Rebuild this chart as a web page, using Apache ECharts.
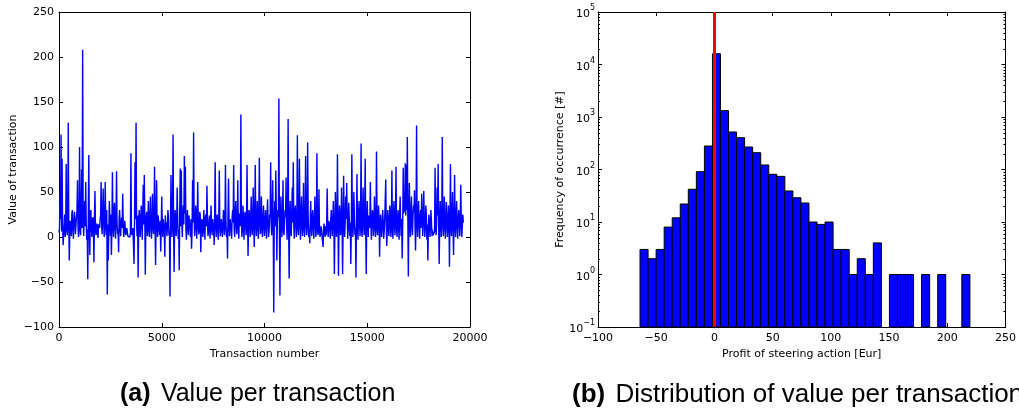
<!DOCTYPE html>
<html>
<head>
<meta charset="utf-8">
<script src="https://cdn.jsdelivr.net/npm/echarts@6/dist/echarts.min.js"></script>
<style>html,body{margin:0;padding:0;background:#fff;}#c{width:1019px;height:414px;}</style>
</head>
<body>
<div id="c"></div>
<script>
// ---- Panel (a): value per transaction, sampled every 25 transactions ----
const transactionStep = 25;
const transactionValues = [
  5,10,48,20,114,6,87,15,-9,3,12,25,0,8,81,18,2,14,127,22,-26,5,18,12,1,26,30,9,-2,16,28,20,3,4,22,30,63,12,0,8,
  100,18,2,25,75,10,208,30,1,22,40,12,61,15,-3,8,-47,20,91,14,-20,26,30,10,0,18,22,6,-28,22,51,12,2,9,15,4,-1,14,12,10,
  20,24,61,12,3,28,54,16,0,22,61,10,2,30,-64,14,-26,8,40,20,1,25,-20,12,72,18,0,28,38,10,-2,22,73,15,3,8,-17,20,30,12,
  1,16,22,10,48,14,0,6,18,10,2,4,10,8,1,3,3,2,0,5,93,6,2,3,10,12,-30,18,83,20,127,15,1,24,-45,10,30,22,0,14,
  35,20,-3,26,58,14,69,22,-42,10,25,28,1,16,40,8,0,24,45,12,-2,18,48,10,3,25,78,14,-31,20,63,12,0,24,25,8,2,18,-16,10,
  45,14,0,20,22,8,-22,24,12,16,1,10,30,22,2,6,-66,18,69,12,0,26,114,16,-39,10,30,20,1,14,55,22,-2,8,-37,28,76,12,74,18,
  0,22,35,14,90,26,78,10,-3,18,30,8,2,24,15,12,0,20,-13,6,63,16,116,22,1,10,35,28,-2,14,61,20,3,8,28,24,-17,12,20,18,
  0,16,30,8,-3,22,25,12,57,18,1,6,18,24,-2,14,35,10,2,20,22,8,-9,26,83,12,0,18,25,6,-3,22,74,14,1,10,20,20,0,8,
  30,24,2,12,80,18,0,8,-24,26,65,14,1,20,22,10,-2,22,30,16,80,8,0,24,40,14,3,20,63,10,-2,26,25,12,136,18,0,8,35,22,
  -3,14,28,24,2,10,80,20,-21,16,30,26,0,8,45,22,2,12,55,18,-11,24,80,14,1,20,40,10,-2,26,88,16,3,22,45,8,0,18,35,12,
  1,20,30,12,-2,24,42,16,0,8,25,22,83,14,2,26,63,10,-84,18,40,12,74,28,-26,16,30,22,154,10,-65,24,45,14,0,20,63,8,2,18,
  30,22,66,14,-3,26,131,10,-46,20,40,8,1,24,55,16,83,12,-2,28,35,14,0,20,113,10,2,24,87,16,-3,22,45,12,1,26,60,8,0,18,
  90,20,2,12,105,24,0,8,-7,18,40,14,1,22,30,10,-2,16,45,20,0,8,93,14,2,6,53,10,0,4,12,8,1,3,-11,10,15,6,0,12,
  2,14,54,8,0,18,18,12,-2,20,30,10,1,22,40,16,-41,8,50,24,0,14,92,20,-43,10,35,26,2,12,55,18,-41,8,68,22,0,14,45,20,
  60,24,-2,12,38,20,1,16,-30,8,92,26,0,14,50,22,2,10,-45,18,70,12,-3,24,40,16,1,20,104,8,0,22,55,14,2,26,87,10,-41,18,
  40,16,0,24,22,10,61,20,-3,14,30,26,1,12,45,18,0,8,95,22,2,16,35,20,-22,10,25,24,0,12,30,18,-2,6,20,22,64,14,-10,10,
  30,20,1,12,35,24,0,16,74,8,-2,22,40,14,2,26,78,10,0,18,30,12,-3,24,45,16,1,20,-24,10,77,26,50,28,82,24,80,30,111,22,
  -44,26,60,18,0,24,45,14,2,22,35,28,52,12,-15,20,124,16,0,26,40,14,-2,22,30,10,48,24,1,18,51,20,0,12,35,26,-3,14,-26,10,
  25,18,0,12,30,16,1,8,2,4,0,6,77,20,2,14,55,24,81,18,-30,12,40,26,0,16,111,22,1,10,45,24,-2,14,39,20,0,12,35,18,
  -33,22,81,14,1,26,50,10,-20,20,69,16,0,24,40,12,-2,18,30,22,1,14,58,20,0,12,25,16
];

// ---- Panel (b): histogram of profit ----
const histBinStart = -63.9;
const histBinWidth = 6.91;
const histCounts = [3,2,3,8,12,22,42,91,280,16000,1320,518,404,268,209,122,81,74,39,29,23,10,9,10,3,3,1,2,1,4,0,1,1,1,0,1,0,1,0,0,1];
const logMantissas = [2,3,4,5,6,7,8,9];
const logDecades = [0.1,1,10,100,1000,10000];

const lineData = transactionValues.map((v, i) => [i * transactionStep, v]);
const histData = [];
histCounts.forEach((c, i) => {
  if (c > 0) histData.push([histBinStart + i * histBinWidth, histBinStart + (i + 1) * histBinWidth, c]);
});
const minorTicks = [];
logDecades.forEach(d => logMantissas.forEach(m => minorTicks.push(m * d)));

const FONT = 'DejaVu Sans';
const CAP_FONT = 'Liberation Sans';
const tickFont = {color: '#000', fontSize: 11, fontFamily: FONT};
const axisLine = {show: true, onZero: false, lineStyle: {color: '#000', width: 1}};
const axisTick = {show: true, inside: true, length: 4, lineStyle: {color: '#000', width: 1}};
const minus = v => String(v).replace('-', '\u2212');

function mkX(grid, min, max, interval, name, top) {
  return {
    gridIndex: grid, type: 'value', min, max, interval,
    position: top ? 'top' : 'bottom',
    axisLine, axisTick, splitLine: {show: false},
    axisLabel: top ? {show: false} : Object.assign({margin: 6, formatter: minus}, tickFont),
    name: top ? '' : name, nameLocation: 'middle', nameGap: 20,
    nameTextStyle: {color: '#000', fontSize: 11, fontFamily: FONT}
  };
}

function caption(x, fs, label, text) {
  return {type: 'text', left: x, top: 382,
    style: {rich: {a: {fontFamily: CAP_FONT, fontWeight: 'bold', fontSize: fs, fill: '#000'},
                  t: {fontFamily: CAP_FONT, fontSize: fs, fill: '#000', padding: [0, 0, 0, 7]}},
            text: '{a|' + label + '} {t|' + text + '}'}};
}

const option = {
  animation: false,
  backgroundColor: '#fff',
  grid: [
    {left: 59, top: 12, width: 411, height: 315},
    {left: 598, top: 12, width: 411, height: 315}
  ],
  xAxis: [
    mkX(0, 0, 20000, 5000, 'Transaction number', false),
    mkX(0, 0, 20000, 5000, '', true),
    mkX(1, -100, 250, 50, 'Profit of steering action [Eur]', false),
    mkX(1, -100, 250, 50, '', true)
  ],
  yAxis: [
    {gridIndex: 0, type: 'value', min: -100, max: 250, interval: 50, position: 'left',
     axisLine, axisTick, splitLine: {show: false},
     axisLabel: Object.assign({margin: 5, formatter: minus}, tickFont),
     name: 'Value of transaction', nameLocation: 'middle', nameGap: 40,
     nameTextStyle: {color: '#000', fontSize: 11, fontFamily: FONT}},
    {gridIndex: 0, type: 'value', min: -100, max: 250, interval: 50, position: 'right',
     axisLine, axisTick, splitLine: {show: false}, axisLabel: {show: false}},
    {gridIndex: 1, type: 'log', logBase: 10, min: 0.1, max: 100000, interval: 1, position: 'left',
     axisLine, axisTick, splitLine: {show: false},
     axisLabel: {margin: 3, color: '#000',
       formatter: v => {
         const e = Math.round(Math.log10(v));
         return '{b|10}{s|' + (e < 0 ? '\u2212' + (-e) : e) + '}';
       },
       rich: {
         b: {fontSize: 11, fontFamily: FONT, color: '#000', lineHeight: 16, verticalAlign: 'bottom'},
         s: {fontSize: 8, fontFamily: FONT, color: '#000', lineHeight: 8, verticalAlign: 'top'}
       }},
     name: 'Frequency of occurrence [#]', nameLocation: 'middle', nameGap: 32,
     nameTextStyle: {color: '#000', fontSize: 11, fontFamily: FONT}},
    {gridIndex: 1, type: 'log', logBase: 10, min: 0.1, max: 100000, interval: 1, position: 'right',
     axisLine, axisTick, splitLine: {show: false}, axisLabel: {show: false}}
  ],
  series: [
    {
      type: 'line', xAxisIndex: 0, yAxisIndex: 0, data: lineData,
      showSymbol: false, symbol: 'none', sampling: null,
      lineStyle: {color: '#0000ff', width: 1.4}, silent: true
    },
    {
      type: 'custom', xAxisIndex: 2, yAxisIndex: 2, data: histData,
      encode: {x: [0, 1], y: 2},
      renderItem: (params, api) => {
        const p1 = api.coord([api.value(0), api.value(2)]);
        const p2 = api.coord([api.value(1), 0.1]);
        return {
          type: 'rect',
          shape: {x: p1[0], y: p1[1], width: p2[0] - p1[0], height: p2[1] - p1[1]},
          style: {fill: '#0000ff', stroke: '#000', lineWidth: 1}
        };
      },
      markLine: {
        silent: true, symbol: 'none', animation: false,
        label: {show: false},
        lineStyle: {color: '#ff0000', width: 3, type: 'solid'},
        data: [{xAxis: 0}]
      },
      z: 3
    },
    {
      type: 'custom', xAxisIndex: 2, yAxisIndex: 2, data: minorTicks,
      encode: {y: 0},
      renderItem: (params, api) => {
        const cs = params.coordSys;
        const p = api.coord([0, api.value(0)]);
        const y = Math.round(p[1]) + 0.5;
        return {
          type: 'group',
          children: [
            {type: 'line', shape: {x1: cs.x, y1: y, x2: cs.x + 2, y2: y}, style: {stroke: '#000', lineWidth: 1}},
            {type: 'line', shape: {x1: cs.x + cs.width - 2, y1: y, x2: cs.x + cs.width, y2: y}, style: {stroke: '#000', lineWidth: 1}}
          ]
        };
      },
      silent: true, z: 4
    }
  ],
  graphic: [
    caption(120, 25, '(a)', 'Value per transaction'),
    caption(572, 26, '(b)', 'Distribution of value per transaction')
  ]
};

const chart = echarts.init(document.getElementById('c'), null, {renderer: 'canvas'});
chart.setOption(option);
</script>
</body>
</html>
